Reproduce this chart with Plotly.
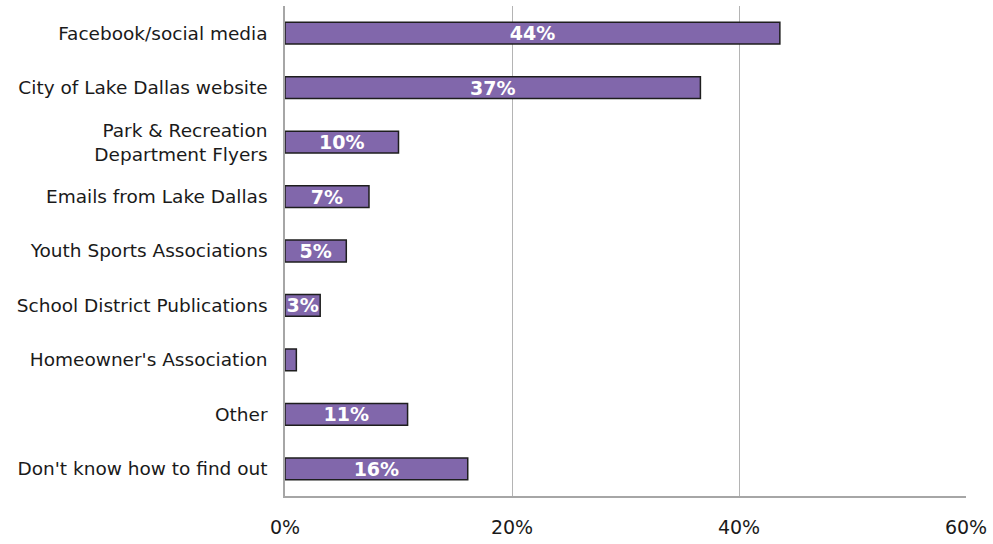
import plotly.graph_objects as go

# Sources of information, top to bottom
categories = [
    "Facebook/social media",
    "City of Lake Dallas website",
    "Park & Recreation<br>Department Flyers",
    "Emails from Lake Dallas",
    "Youth Sports Associations",
    "School District Publications",
    "Homeowner's Association",
    "Other",
    "Don't know how to find out",
]
shares = [43.6, 36.6, 10.0, 7.4, 5.4, 3.1, 1.0, 10.8, 16.1]
show_label = [True, True, True, True, True, True, False, True, True]

tick_vals = [0, 20, 40, 60]
tick_text = ["0%", "20%", "40%", "60%"]

labels = [f"{round(v):.0f}%" if s else "" for v, s in zip(shares, show_label)]

FONT = "DejaVu Sans"

fig = go.Figure(
    go.Bar(
        y=categories,
        x=shares,
        orientation="h",
        marker=dict(color="#8167ab", line=dict(color="#1e1e1e", width=1.5)),
        text=labels,
        textposition="inside",
        insidetextanchor="middle",
        constraintext="none",
        textfont=dict(family=FONT, size=19, color="white", weight="bold"),
        cliponaxis=False,
    )
)

fig.update_layout(
    width=993,
    height=544,
    margin=dict(l=285, r=24, t=6, b=44),
    paper_bgcolor="white",
    plot_bgcolor="white",
    bargap=0.6,
    showlegend=False,
    font=dict(family=FONT, size=18.5, color="#1a1a1a"),
)

fig.update_xaxes(
    range=[0, 60],
    tickvals=tick_vals,
    ticktext=tick_text,
    showgrid=True,
    gridcolor="#b4b4b4",
    gridwidth=1,
    zeroline=False,
    showline=True,
    linecolor="#a6a6a6",
    linewidth=1.5,
    ticks="",
    ticklabelstandoff=13,
    tickfont=dict(size=19),
)
fig.update_yaxes(
    categoryorder="array",
    categoryarray=categories[::-1],
    autorange=False,
    range=[-0.5, len(categories) - 0.5],
    showline=True,
    linecolor="#a6a6a6",
    linewidth=1.5,
    showgrid=False,
    ticks="",
    ticklabelstandoff=12,
)

fig.write_html("out.html")
